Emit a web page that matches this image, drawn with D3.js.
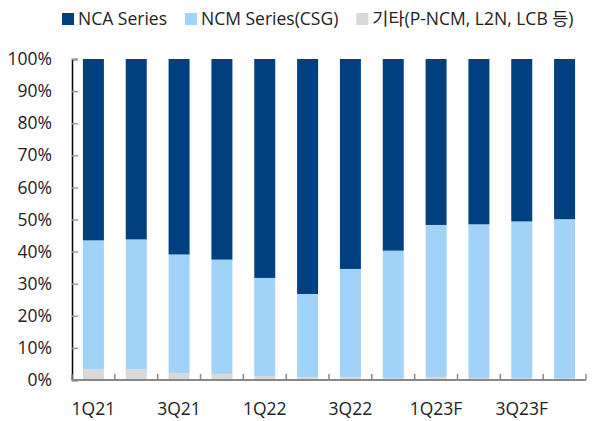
<!DOCTYPE html>
<html>
<head>
<meta charset="utf-8">
<script src="https://cdn.jsdelivr.net/npm/d3@7"></script>
<style>
  body { margin: 0; background: #fff; }
  svg text { font-family: "Open Sans", "Noto Sans CJK KR", sans-serif; fill: #222; }
</style>
</head>
<body>
<svg width="594" height="421"></svg>
<script>
// quarters, 100% stacked shares
var quarters = ["1Q21","2Q21","3Q21","4Q21","1Q22","2Q22","3Q22","4Q22","1Q23F","2Q23F","3Q23F","4Q23F"];
var tickLabels = ["1Q21","3Q21","1Q22","3Q22","1Q23F","3Q23F"];
var otherShare = [3.4, 3.3, 2.1, 1.9, 1.2, 0.9, 0.9, 0.6, 0.9, 0.6, 0.6, 0.4];
var ncmShare   = [40.1, 40.5, 37.0, 35.6, 30.6, 25.9, 33.7, 39.7, 47.4, 47.9, 48.8, 49.7];
var ncaShare   = quarters.map(function(q, i) { return 100 - otherShare[i] - ncmShare[i]; });

var seriesNames = ["기타(P-NCM, L2N, LCB 등)", "NCM Series(CSG)", "NCA Series"];
var colors = ["#d9d9d9", "#a1d2f8", "#004080"];

var data = quarters.map(function(q, i) {
  return {q: q, other: otherShare[i], ncm: ncmShare[i], nca: ncaShare[i]};
});

var svg = d3.select("svg"),
    margin = {top: 59, right: 8, bottom: 41, left: 72},
    width = +svg.attr("width") - margin.left - margin.right,
    height = +svg.attr("height") - margin.top - margin.bottom,
    g = svg.append("g").attr("transform", "translate(" + margin.left + "," + margin.top + ")");

var x = d3.scaleBand().domain(quarters).range([0, width]).paddingInner(0.51).paddingOuter(0.255);
var y = d3.scaleLinear().domain([0, 100]).range([height, 0]);

var stack = d3.stack().keys(["other", "ncm", "nca"]);
var layers = stack(data);

g.selectAll(".layer")
  .data(layers)
  .enter().append("g")
    .attr("fill", function(d, i) { return colors[i]; })
  .selectAll("rect")
  .data(function(d) { return d; })
  .enter().append("rect")
    .attr("x", function(d) { return x(d.data.q); })
    .attr("y", function(d) { return y(d[1]); })
    .attr("width", x.bandwidth())
    .attr("height", function(d) { return y(d[0]) - y(d[1]); });

// Y axis
var yAxis = d3.axisLeft(y)
    .tickValues(d3.range(0, 101, 10))
    .tickFormat(function(d) { return d + "%"; })
    .tickSize(-6)
    .tickPadding(20);

var ya = g.append("g").attr("class", "y axis").call(yAxis);
ya.select(".domain").attr("stroke", "#000").attr("stroke-width", 1.5);
ya.selectAll(".tick line").attr("stroke", "#999").attr("stroke-width", 1.5);
ya.selectAll(".tick text").style("font-size", "17.5px").attr("fill", "#222");

// X axis: ticks on category boundaries
var step = x.step();
var xa = g.append("g").attr("transform", "translate(0," + height + ")");
xa.append("line")
  .attr("x1", 0).attr("x2", width)
  .attr("stroke", "#888").attr("stroke-width", 2);
xa.selectAll(".bt")
  .data(d3.range(0, quarters.length + 1))
  .enter().append("line")
    .attr("x1", function(i) { return i * step; })
    .attr("x2", function(i) { return i * step; })
    .attr("y1", 0).attr("y2", -6)
    .attr("stroke", "#888").attr("stroke-width", 1.5);
xa.selectAll(".lbl")
  .data(tickLabels)
  .enter().append("text")
    .attr("x", function(d) { return x(d) + x.bandwidth() / 2; })
    .attr("y", 35)
    .attr("text-anchor", "middle")
    .style("font-size", "17.5px")
    .text(function(d) { return d; });

// Legend, laid out from measured text widths
var legendItems = [
  {name: seriesNames[2], color: colors[2]},
  {name: seriesNames[1], color: colors[1]},
  {name: seriesNames[0], color: colors[0]}
];
var legend = svg.append("g");
var lx = 62;
legendItems.forEach(function(d) {
  var item = legend.append("g").attr("transform", "translate(" + lx + ",0)");
  item.append("rect").attr("x", 0).attr("y", 13).attr("width", 12).attr("height", 12)
    .attr("fill", d.color);
  var t = item.append("text").attr("x", 16).attr("y", 25)
    .style("font-size", "17.5px")
    .text(d.name);
  lx += 16 + t.node().getComputedTextLength() + 18;
});
</script>
</body>
</html>
